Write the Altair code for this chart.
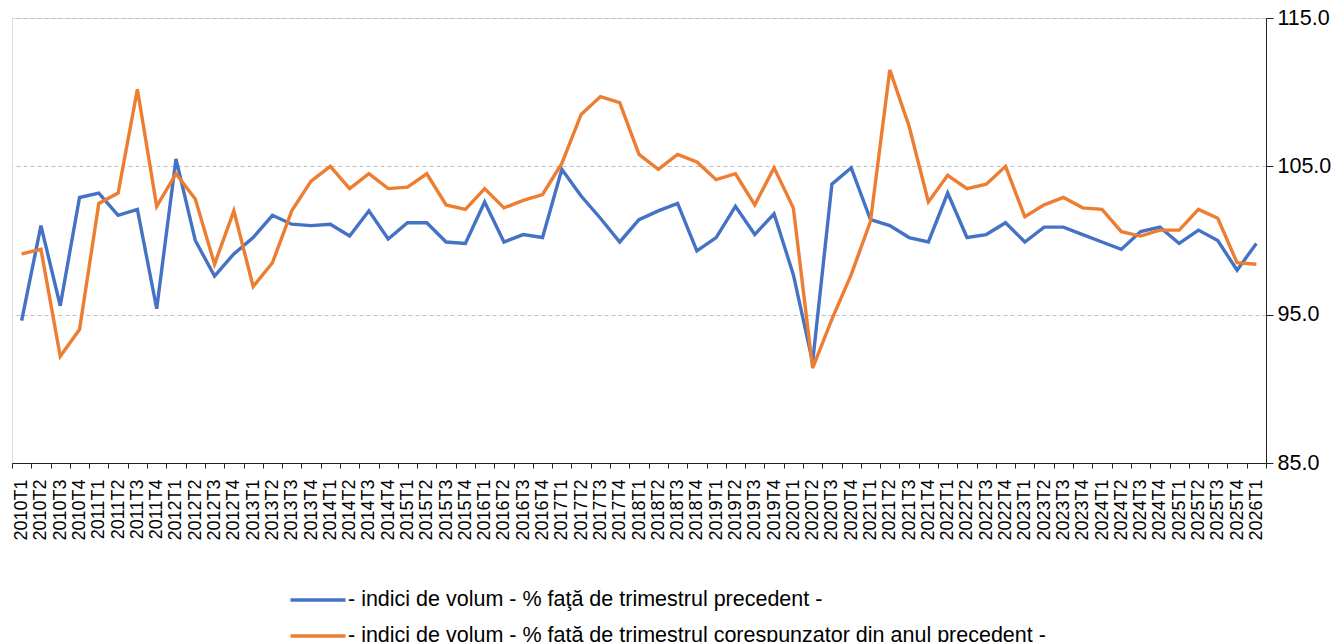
import altair as alt
import pandas as pd

quarters = [f"{y}T{q}" for y in range(2010, 2027) for q in range(1, 5)][:65]

prev_quarter = [94.6, 101.0, 95.6, 102.9, 103.2, 101.7, 102.1, 95.4, 105.5, 100.0,
                97.6, 99.1, 100.2, 101.7, 101.1, 101.0, 101.1, 100.3, 102.0, 100.1,
                101.2, 101.2, 99.9, 99.8, 102.6, 99.9, 100.4, 100.2, 104.8, 103.0,
                101.5, 99.9, 101.4, 102.0, 102.5, 99.3, 100.2, 102.3, 100.4, 101.8,
                97.7, 91.8, 103.8, 104.9, 101.4, 101.0, 100.2, 99.9, 103.2, 100.2,
                100.4, 101.2, 99.9, 100.9, 100.9, 100.4, 99.9, 99.4, 100.6, 100.9,
                99.8, 100.7, 100.0, 98.0, 99.8]

same_quarter_prev_year = [99.1, 99.4, 92.2, 94.0, 102.5, 103.2, 110.2, 102.3, 104.5, 102.8,
                          98.4, 102.0, 96.9, 98.5, 102.0, 104.0, 105.0, 103.5, 104.5, 103.5,
                          103.6, 104.5, 102.4, 102.1, 103.5, 102.2, 102.7, 103.1, 105.2, 108.5,
                          109.7, 109.3, 105.8, 104.8, 105.8, 105.3, 104.1, 104.5, 102.4, 104.9,
                          102.2, 91.4, 94.7, 97.7, 101.3, 111.5, 107.7, 102.6, 104.4, 103.5,
                          103.8, 105.0, 101.6, 102.4, 102.9, 102.2, 102.1, 100.6, 100.3, 100.7,
                          100.7, 102.1, 101.5, 98.5, 98.4]

series_names = [
    "- indici de volum - % faţă de trimestrul precedent -",
    "- indici de volum - % faţă de trimestrul corespunzator din anul precedent -",
]
series_colors = ["#4472C4", "#ED7D31"]
y_ticks = [85, 95, 105, 115]

rows = []
for q, v in zip(quarters, prev_quarter):
    rows.append({"q": q, "v": v, "s": series_names[0]})
for q, v in zip(quarters, same_quarter_prev_year):
    rows.append({"q": q, "v": v, "s": series_names[1]})
df = pd.DataFrame(rows)

FONT = "Liberation Sans"

chart = alt.Chart(df).mark_line(strokeWidth=3.4).encode(
    x=alt.X("q:O", sort=quarters,
            scale=alt.Scale(type="band", paddingInner=0, paddingOuter=0),
            axis=alt.Axis(title=None, labelAngle=270, labelFontSize=18, labelFont=FONT,
                          labelColor="black", tickBand="extent", tickSize=5,
                          tickColor="#222", domainColor="#222", labelPadding=11,
                          grid=False, labelBaseline="middle", labelAlign="right")),
    y=alt.Y("v:Q", scale=alt.Scale(domain=[85, 115], nice=False, zero=False),
            axis=alt.Axis(title=None, orient="right", values=y_ticks, format=".1f",
                          labelFontSize=21.5, labelFont=FONT, labelColor="black",
                          tickSize=7, tickColor="#222", domainColor="#222",
                          labelPadding=4, gridColor="#BFBFBF", gridDash=[4, 3],
                          gridWidth=1)),
    color=alt.Color("s:N", sort=series_names,
                    scale=alt.Scale(domain=series_names, range=series_colors),
                    legend=alt.Legend(title=None, orient="none", legendX=294, legendY=570,
                                      direction="vertical", labelFontSize=21.5, labelFont=FONT,
                                      labelColor="black", symbolType="M-2.75,0L2.75,0",
                                      symbolSize=400, symbolStrokeWidth=3.5,
                                      labelOffset=18, rowPadding=13, labelLimit=1000)),
).properties(
    width=1254, height=445,
    autosize=alt.AutoSizeParams(type="none"),
    padding={"left": 4, "top": 10, "right": 67, "bottom": 190},
).configure_view(stroke=None).configure(background="white")

chart.save("out.html", embed_options={"renderer": "svg", "actions": False})
